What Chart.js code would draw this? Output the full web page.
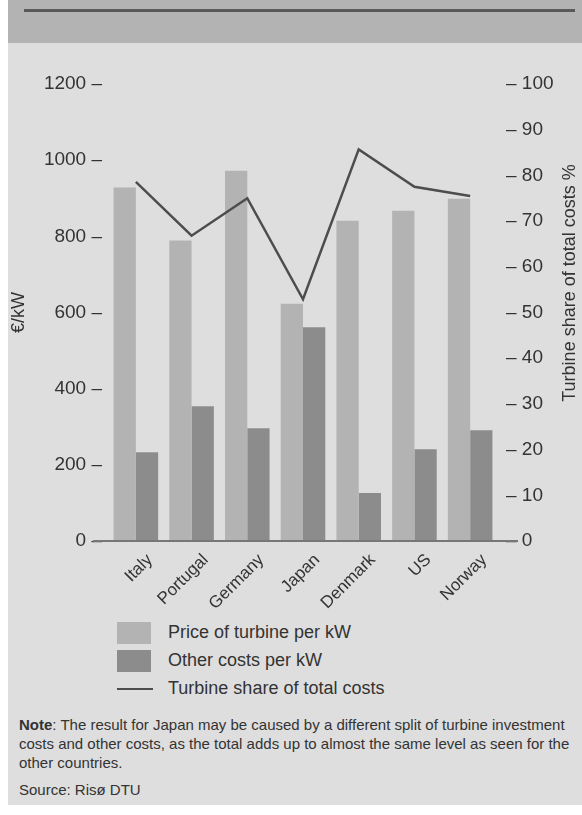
<!DOCTYPE html>
<html>
<head>
<meta charset="utf-8">
<script src="https://cdn.jsdelivr.net/npm/chart.js@4"></script>
<style>
  html, body { margin: 0; padding: 0; background: #fff; }
  #page { position: absolute; left: 8px; top: 0; width: 574px; height: 805px; background: #dedede; font-family: "Liberation Sans", Arial, sans-serif; color: #333; }
  #band { position: absolute; left: 0; top: 0; width: 574px; height: 43px; background: #b3b3b3; }
  #band div { position: absolute; left: 16px; top: 9px; width: 551px; height: 3px; background: #595959; }
  #wrap { position: absolute; left: 0; top: 43px; width: 574px; height: 575px; }
  #legend { position: absolute; left: 109px; top: 620px; font-size: 18px; }
  .item { position: relative; height: 28px; }
  .box { position: absolute; left: 0; top: 2px; width: 34px; height: 22px; }
  .ln { position: absolute; left: 0; top: 12px; width: 36px; height: 2px; background: #4d4d4d; }
  .item span { position: absolute; left: 51px; top: 2px; white-space: nowrap; }
  #note { position: absolute; left: 11px; top: 715px; width: 562px; font-size: 15px; line-height: 19px; }
  #source { position: absolute; left: 11px; top: 781px; font-size: 15px; }
</style>
</head>
<body>
<div id="page">
  <div id="band"><div></div></div>
  <div id="wrap"><canvas id="chart"></canvas></div>
  <div id="legend">
    <div class="item"><div class="box" style="background:#b3b3b3"></div><span>Price of turbine per kW</span></div>
    <div class="item"><div class="box" style="background:#8c8c8c"></div><span>Other costs per kW</span></div>
    <div class="item"><div class="ln"></div><span>Turbine share of total costs</span></div>
  </div>
  <div id="note"><b>Note</b>: The result for Japan may be caused by a different split of turbine investment costs and other costs, as the total adds up to almost the same level as seen for the other countries.</div>
  <div id="source">Source: Risø DTU</div>
</div>
<script>
const countries = ['Italy', 'Portugal', 'Germany', 'Japan', 'Denmark', 'US', 'Norway'];
const turbinePrice = [928, 789, 972, 623, 841, 867, 899];
const otherCosts = [233, 354, 296, 561, 126, 241, 291];
const turbineShare = [78.6, 66.8, 75, 52.9, 85.7, 77.5, 75.5];
const leftTicks = [0, 200, 400, 600, 800, 1000, 1200];
const rightTicks = [0, 10, 20, 30, 40, 50, 60, 70, 80, 90, 100];

const fontFamily = '"Liberation Sans", Arial, sans-serif';

// baseline and right axis title
const extras = {
  id: 'extras',
  afterDatasetsDraw(c) {
    const ctx = c.ctx;
    const y = c.scales.y.getPixelForValue(0);
    ctx.save();
    ctx.strokeStyle = '#777';
    ctx.lineWidth = 2;
    ctx.beginPath();
    ctx.moveTo(c.chartArea.left - 15, y);
    ctx.lineTo(c.chartArea.right + 20, y);
    ctx.stroke();
    ctx.restore();
  },
  afterDraw(c) {
    const ctx = c.ctx;
    ctx.save();
    ctx.translate(562, 240);
    ctx.rotate(-Math.PI / 2);
    ctx.fillStyle = '#333';
    ctx.font = '18px ' + fontFamily;
    ctx.textAlign = 'center';
    ctx.textBaseline = 'middle';
    ctx.fillText('Turbine share of total costs %', 0, 0);
    ctx.restore();
  }
};

new Chart(document.getElementById('chart'), {
  data: {
    labels: countries,
    datasets: [
      { type: 'line', label: 'Turbine share of total costs', data: turbineShare, yAxisID: 'y2',
        borderColor: '#4d4d4d', borderWidth: 2.5, pointRadius: 0, tension: 0, order: 0 },
      { type: 'bar', label: 'Price of turbine per kW', data: turbinePrice, yAxisID: 'y',
        backgroundColor: '#b3b3b3', categoryPercentage: 0.8, barPercentage: 1.0, order: 1 },
      { type: 'bar', label: 'Other costs per kW', data: otherCosts, yAxisID: 'y',
        backgroundColor: '#8c8c8c', categoryPercentage: 0.8, barPercentage: 1.0, order: 1 }
    ]
  },
  options: {
    responsive: true,
    maintainAspectRatio: false,
    animation: false,
    layout: { padding: { top: 41, left: 0, right: 0, bottom: 0 } },
    plugins: { legend: { display: false }, tooltip: { enabled: false } },
    scales: {
      x: {
        grid: { display: false, drawTicks: false },
        border: { display: false },
        ticks: { color: '#333', font: { family: fontFamily, size: 17 }, maxRotation: 45, minRotation: 45, padding: 9, labelOffset: 14 },
        afterFit(s) { s.height = 77; }
      },
      y: {
        position: 'left',
        min: 0, max: 1200,
        afterBuildTicks(s) { s.ticks = leftTicks.map(v => ({ value: v })); },
        grid: { display: false, drawTicks: false },
        border: { display: false },
        ticks: { color: '#333', font: { family: fontFamily, size: 19 }, padding: 6, callback: v => v + ' \u2013' },
        title: { display: true, text: '\u20ac/kW', color: '#333', font: { family: fontFamily, size: 18 }, padding: { top: 0, bottom: 0 } },
        afterFit(s) { s.width = 100; }
      },
      y2: {
        position: 'right',
        min: 0, max: 100,
        afterBuildTicks(s) { s.ticks = rightTicks.map(v => ({ value: v })); },
        grid: { display: false, drawTicks: false },
        border: { display: false },
        ticks: { color: '#333', font: { family: fontFamily, size: 19 }, padding: 8, callback: v => '\u2013 ' + v },
        afterFit(s) { s.width = 84; }
      }
    }
  },
  plugins: [extras]
});
</script>
</body>
</html>
